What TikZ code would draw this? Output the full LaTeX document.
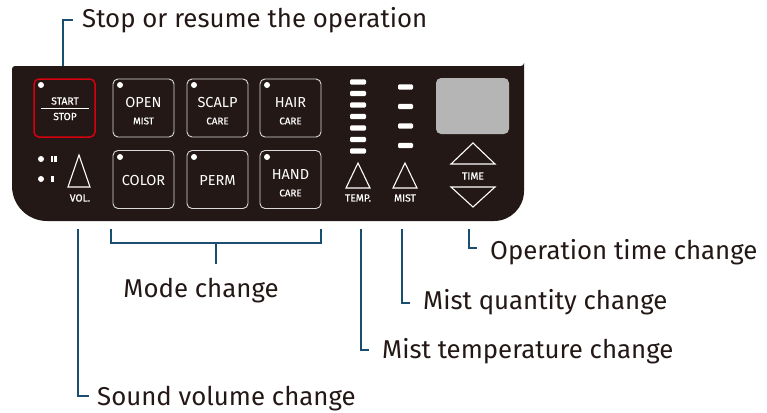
\documentclass[tikz,border=0pt]{standalone}
\usepackage{fontspec}
\setmainfont{Fira Sans}
\newfontfamily\panelfont{Fira Sans}[FakeBold=0.6]
\definecolor{panel}{HTML}{231815}
\definecolor{callout}{HTML}{1B4E6E}
\definecolor{txt}{HTML}{231815}
\definecolor{stopred}{HTML}{D7000F}
\definecolor{lcd}{HTML}{B5B5B5}
\definecolor{btnline}{HTML}{DADADA}
\tikzset{
  btn/.style={draw=btnline, line width=0.9pt, rounded corners=5pt, minimum width=61pt, minimum height=58pt, inner sep=0pt},
  redbtn/.style={btn, draw=stopred, line width=1.5pt},
  led/.style={circle, fill=white, minimum size=6pt, inner sep=0pt},
  big/.style={text=white, font=\fontsize{14.5}{16}\selectfont, inner sep=0pt},
  small/.style={text=white, font=\panelfont\fontsize{9.8}{11}\selectfont, inner sep=0pt},
  tiny/.style={text=white, font=\panelfont\fontsize{10.3}{11}\selectfont, inner sep=0pt},
  bar/.style={fill=white, rounded corners=1.2pt},
  tri/.style={draw=white, line width=1.1pt, line join=miter},
  lbl/.style={text=txt, font=\fontsize{25.8}{30}\selectfont, inner sep=0pt},
  call/.style={draw=callout, line width=2.4pt, line cap=butt, line join=miter},
}
\begin{document}
\begin{tikzpicture}[x=1pt,y=-1pt]
\useasboundingbox (0,0) rectangle (767,412);
% panel
\fill[panel] (15,66) -- (521,66) arc[start angle=90,end angle=0,radius=3] -- (524,191)
  arc[start angle=0,end angle=90,radius=30] -- (47,221)
  arc[start angle=90,end angle=180,radius=35] -- (12,69)
  arc[start angle=180,end angle=270,radius=3] -- cycle;
% buttons row 1
\node[redbtn] (bstart) at (64.5,108) {};
\node[btn] (bopen) at (143.5,108) {};
\node[btn] (bscalp) at (217.5,108) {};
\node[btn] (bhair) at (290.5,108) {};
% buttons row 2
\node[btn] (bcolor) at (143.5,179.5) {};
\node[btn] (bperm) at (217.5,179.5) {};
\node[btn] (bhand) at (290.5,179.5) {};
% leds
\node[led] (l1) at (41,85) {};
\node[led] (l2) at (120,85) {};
\node[led] (l3) at (194,85) {};
\node[led] (l4) at (267,85) {};
\node[led] (l5) at (120,157) {};
\node[led] (l6) at (194,157) {};
\node[led] (l7) at (267,157) {};
% texts
\node[tiny] (tstart) at (65,101) {START};
\draw[white, line width=0.8pt] (41,108.5) -- (89,108.5);
\node[tiny] (tstop) at (65,116.5) {STOP};
\node[big] (topen) at (143.5,103) {OPEN};
\node[small] (tmist) at (143.5,121) {MIST};
\node[big] (tscalp) at (217.5,103) {SCALP};
\node[small] (tcare1) at (217.5,121) {CARE};
\node[big] (thair) at (290.5,103) {HAIR};
\node[small] (tcare2) at (290.5,121) {CARE};
\node[big] (tcolor) at (143.5,181) {COLOR};
\node[big] (tperm) at (217.5,181) {PERM};
\node[big] (thand) at (290.5,175) {HAND};
\node[small] (tcare3) at (290.5,193) {CARE};
% volume
\node[led] (v1) at (41,159) {};
\node[led] (v2) at (41,179) {};
\fill[white] (50.6,156) rectangle (52.8,162);
\fill[white] (54.4,156) rectangle (56.6,162);
\fill[white] (51.3,176) rectangle (53.5,182);
\draw[tri] (79,155) -- (90,187) -- (68,187) -- cycle;
\node[tiny] (tvol) at (80,198) {VOL.};
% temp bars
\foreach \y in {82,93.5,105,116.5,128,139.5,151}
  \fill[bar] (350,\y-2.6) rectangle (366,\y+2.6);
% mist bars
\foreach \y in {87,106.5,126,145.5}
  \fill[bar] (398,\y-2.6) rectangle (413,\y+2.6);
\draw[tri] (358,163) -- (370,188) -- (346,188) -- cycle;
\node[tiny] (ttemp) at (358,198) {TEMP.};
\draw[tri] (405,163) -- (417,188) -- (393,188) -- cycle;
\node[tiny] (tmist2) at (405,198) {MIST};
% display
\fill[lcd, rounded corners=5pt] (436,78) rectangle (509,134);
\draw[tri] (473,143) -- (495,164) -- (451,164) -- cycle;
\node[tiny] (ttime) at (473,176) {TIME};
\draw[tri] (451,187) -- (495,187) -- (473,207) -- cycle;
% labels
\node[lbl, anchor=base west] (lstop) at (82,28) {Stop or resume the operation};
\node[lbl, anchor=base] (lmode) at (201,297) {Mode change};
\node[lbl, anchor=base west] (lop) at (490,259) {Operation time change};
\node[lbl, anchor=base west] (lqty) at (423,309) {Mist quantity change};
\node[lbl, anchor=base west] (ltemp) at (382,358) {Mist temperature change};
\node[lbl, anchor=base west] (lvol) at (97,405) {Sound volume change};
% callout coordinates
\coordinate (cs0) at (63,66);
\coordinate (cs1) at (63,20);
\coordinate (cs2) at (73,20);
\coordinate (cv0) at (78,229);
\coordinate (cv1) at (78,396);
\coordinate (cv2) at (89,396);
\coordinate (cm0) at (111,229);
\coordinate (cm1) at (111,243);
\coordinate (cm2) at (321,243);
\coordinate (cm3) at (321,229);
\coordinate (cm4) at (216,243);
\coordinate (cm5) at (216,264);
\coordinate (ct0) at (361,229);
\coordinate (ct1) at (361,350);
\coordinate (ct2) at (369,350);
\coordinate (cq0) at (402,229);
\coordinate (cq1) at (402,303);
\coordinate (cq2) at (410,303);
\coordinate (co0) at (469,229);
\coordinate (co1) at (469,248);
\coordinate (co2) at (477,248);
\draw[call] (cs0) -- (cs1) -- (cs2);
\draw[call] (cv0) -- (cv1) -- (cv2);
\draw[call] (cm0) -- (cm1) -- (cm2) -- (cm3);
\draw[call] (cm4) -- (cm5);
\draw[call] (ct0) -- (ct1) -- (ct2);
\draw[call] (cq0) -- (cq1) -- (cq2);
\draw[call] (co0) -- (co1) -- (co2);
\end{tikzpicture}
\end{document}
